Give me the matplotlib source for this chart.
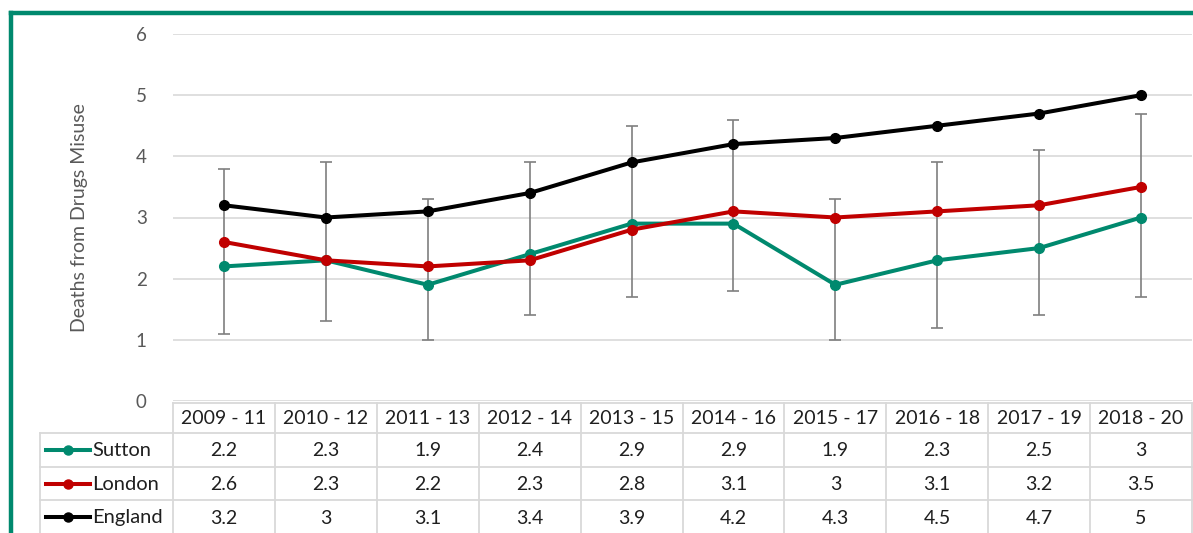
import matplotlib
matplotlib.use("Agg")
import matplotlib.pyplot as plt
from matplotlib.lines import Line2D

plt.rcParams['font.family'] = ['Lato', 'DejaVu Sans']

periods = ["2009 - 11", "2010 - 12", "2011 - 13", "2012 - 14", "2013 - 15",
           "2014 - 16", "2015 - 17", "2016 - 18", "2017 - 19", "2018 - 20"]
sutton = [2.2, 2.3, 1.9, 2.4, 2.9, 2.9, 1.9, 2.3, 2.5, 3]
london = [2.6, 2.3, 2.2, 2.3, 2.8, 3.1, 3, 3.1, 3.2, 3.5]
england = [3.2, 3, 3.1, 3.4, 3.9, 4.2, 4.3, 4.5, 4.7, 5]
# confidence interval of the Sutton rate
sutton_low = [1.1, 1.3, 1.0, 1.4, 1.7, 1.8, 1.0, 1.2, 1.4, 1.7]
sutton_high = [3.8, 3.9, 3.3, 3.9, 4.5, 4.6, 3.3, 3.9, 4.1, 4.7]

series = [("Sutton", sutton, "#00896e"),
          ("London", london, "#c00000"),
          ("England", england, "#000000")]

W, H = 1193, 533
fig = plt.figure(figsize=(W / 100, H / 100), dpi=100)
left, right, top, bottom = 173, 1192, 34, 401
ax = fig.add_axes([left / W, 1 - bottom / H, (right - left) / W, (bottom - top) / H])

x = list(range(len(periods)))
err = [[s - lo for s, lo in zip(sutton, sutton_low)],
       [hi - s for s, hi in zip(sutton, sutton_high)]]
ax.errorbar(x, sutton, yerr=err, fmt="none", ecolor="#7f7f7f", elinewidth=1.2,
            capsize=4.5, capthick=1.2, zorder=2)
for name, vals, col in series:
    ax.plot(x, vals, color=col, lw=2.9, marker="o", ms=7, zorder=3)

ax.set_xlim(-0.5, len(periods) - 0.5)
ax.set_ylim(0, 6)
ax.set_yticks(range(7))
ax.set_xticks([])
ax.grid(axis="y", color="#d9d9d9", lw=1.2)
ax.set_axisbelow(True)
for s in ax.spines.values():
    s.set_visible(False)
ax.tick_params(axis="y", length=0, pad=19, labelsize=13.5, labelcolor="#595959")
ax.set_ylabel("Deaths from Drugs Misuse", fontsize=14, color="#595959", labelpad=34)

# data table under the chart
tr = ax.get_xaxis_transform()
gc = "#d9d9d9"
ah = bottom - top
def ya(py):
    return (bottom - py) / ah
lab_x0 = -0.5 - 133 / ((right - left) / len(periods))
rows_y = [403, 433, 467, 500, 534]
kw = dict(transform=tr, clip_on=False, color=gc, lw=1.3)
ax.plot([-0.5, len(periods) - 0.5], [ya(403), ya(403)], **kw)
for py in rows_y[1:]:
    ax.plot([lab_x0, len(periods) - 0.5], [ya(py), ya(py)], **kw)
for i in range(len(periods) + 1):
    ax.plot([i - 0.5, i - 0.5], [ya(403), ya(534)], **kw)
ax.plot([lab_x0, lab_x0], [ya(433), ya(534)], **kw)

tc = "#1f1f1f"
fs = 14
for i, p in enumerate(periods):
    ax.text(i, ya(419), p, transform=tr, ha="center", va="center", fontsize=fs, color=tc)
for r, (name, vals, col) in enumerate(series):
    yc = ya((rows_y[r + 1] + rows_y[r + 2]) / 2 + 1)
    for i, v in enumerate(vals):
        ax.text(i, yc, f"{v:g}", transform=tr, ha="center", va="center", fontsize=fs, color=tc)
    fx0, fx1 = 46 / W, 90 / W
    fy = 1 - ((rows_y[r + 1] + rows_y[r + 2]) / 2) / H
    fig.add_artist(Line2D([fx0, fx1], [fy, fy], color=col, lw=2.9))
    fig.add_artist(Line2D([(fx0 + fx1) / 2], [fy], color=col, marker="o", ms=6.5))
    fig.text(92 / W, 1 - ((rows_y[r + 1] + rows_y[r + 2]) / 2 + 1) / H, name,
             ha="left", va="center", fontsize=fs + 0.5, color=tc)

# green frame (top and left edges)
fc = "#00896e"
fig.add_artist(Line2D([11 / W, 1], [1 - 13 / H, 1 - 13 / H], color=fc, lw=3.2))
fig.add_artist(Line2D([11 / W, 11 / W], [0, 1 - 13 / H], color=fc, lw=3.2))

fig.savefig("out.png", dpi=100)
